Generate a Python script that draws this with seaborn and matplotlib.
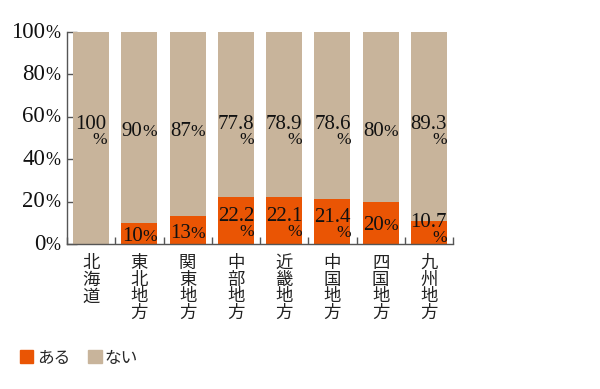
import numpy as np
import pandas as pd
import matplotlib
matplotlib.use("Agg")
import matplotlib.pyplot as plt
import seaborn as sns
from matplotlib.offsetbox import TextArea, HPacker, VPacker, AnnotationBbox
from matplotlib.patches import Patch
from matplotlib.transforms import blended_transform_factory

# ==============================
# DATA
# ==============================

regions = ["北海道", "東北地方", "関東地方", "中部地方",
           "近畿地方", "中国地方", "四国地方", "九州地方"]
aru = [0, 10, 13, 22.2, 22.1, 21.4, 20, 10.7]
nai = [100, 90, 87, 77.8, 78.9, 78.6, 80, 89.3]
y_ticks = [0, 20, 40, 60, 80, 100]

ORANGE = "#EA5504"
TAN = "#C8B49B"
SERIF = "Liberation Serif"
CJK = ["Noto Sans CJK JP", "DejaVu Sans"]

df = pd.DataFrame({"region": regions, "aru": aru, "nai": nai})
df["total"] = df["aru"] + df["nai"]

# ==============================
# FIGURE
# ==============================

sns.set_theme(style="white")
plt.rcParams["font.family"] = CJK

fig = plt.figure(figsize=(6, 3.89), dpi=100)
ax = fig.add_axes([67 / 600, 1 - 244 / 389, (453 - 67) / 600, 212 / 389])

sns.barplot(data=df, x="region", y="total", color=TAN, width=0.75,
            saturation=1, errorbar=None, linewidth=0, ax=ax)
sns.barplot(data=df, x="region", y="aru", color=ORANGE, width=0.75,
            saturation=1, errorbar=None, linewidth=0, ax=ax)

ax.set_xlim(-0.5, 7.5)
ax.set_ylim(0, 100)
ax.set_xlabel("")
ax.set_ylabel("")

for side in ["top", "right"]:
    ax.spines[side].set_visible(False)
for side in ["left", "bottom"]:
    ax.spines[side].set_color("#555555")
    ax.spines[side].set_linewidth(1)

# x axis: vertical region names, small ticks between bars
ax.set_xticks(range(len(regions)))
ax.set_xticklabels(["\n".join(r) for r in regions], fontsize=12.5,
                   family=CJK, color="#222222", linespacing=0.92, va="top")
ax.set_xticks(np.arange(-0.5, len(regions), 1), minor=True)
ax.tick_params(axis="x", which="major", length=0, pad=7)
ax.tick_params(axis="x", which="minor", direction="in", length=5,
               color="#555555", width=1, bottom=True)

# y axis: inward ticks, labels drawn as number + smaller %
ax.set_yticks(y_ticks)
ax.set_yticklabels([])
ax.tick_params(axis="y", direction="in", length=7, color="#555555",
               width=1, left=True)


def pct_box(num, big=15, small=12.5, stacked=False):
    t_num = TextArea(num, textprops=dict(family=SERIF, size=big, color="#111111"))
    t_pct = TextArea("%", textprops=dict(family=SERIF, size=small, color="#111111"))
    if stacked:
        return VPacker(children=[t_num, t_pct], align="right", pad=0, sep=-1.5)
    return HPacker(children=[t_num, t_pct], align="baseline", pad=0, sep=0)


trans = blended_transform_factory(ax.transAxes, ax.transData)
for v in y_ticks:
    ab = AnnotationBbox(pct_box(f"{v}", big=16.5, small=13), (0, v),
                        xycoords=trans, xybox=(-5, 0),
                        boxcoords="offset points", box_alignment=(1, 0.5),
                        frameon=False, annotation_clip=False)
    ax.add_artist(ab)

# value labels
for i, (a, n) in enumerate(zip(aru, nai)):
    s = f"{n:g}"
    two = len(s) > 2
    ab = AnnotationBbox(pct_box(s, stacked=two), (i, 53), frameon=False,
                        box_alignment=(0.5, 0.5), annotation_clip=False)
    ax.add_artist(ab)
    if a > 0:
        s = f"{a:g}"
        two = len(s) > 2
        y = a / 2 - 1.5
        if two:
            y = max(y, 7)
        ab = AnnotationBbox(pct_box(s, stacked=two), (i, y), frameon=False,
                            box_alignment=(0.5, 0.5), annotation_clip=False)
        ax.add_artist(ab)

# legend
handles = [Patch(color=ORANGE, label="ある"), Patch(color=TAN, label="ない")]
fig.legend(handles=handles, loc="center left", bbox_to_anchor=(20 / 600, 1 - 358 / 389),
           ncol=2, frameon=False, handlelength=0.8, handleheight=0.8,
           handletextpad=0.2, columnspacing=1.1, borderpad=0, borderaxespad=0,
           prop=dict(family=CJK, size=12))

fig.savefig("out.png", dpi=100)
